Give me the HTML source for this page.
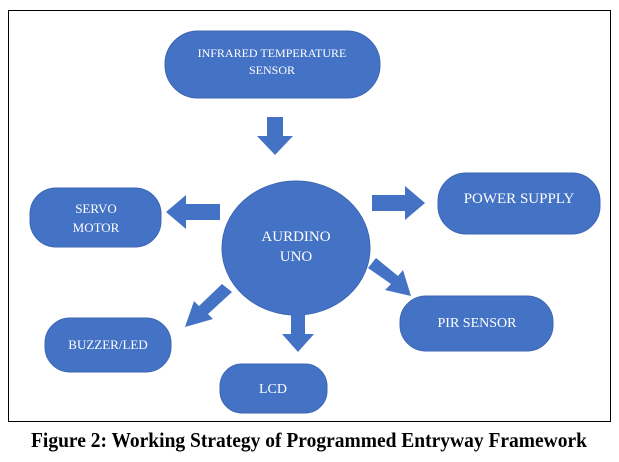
<!DOCTYPE html>
<html><head><style>
html,body{margin:0;padding:0;background:#fff;}
svg{display:block;}
</style></head><body>
<svg width="619" height="462" viewBox="0 0 619 462" xmlns="http://www.w3.org/2000/svg">
<rect x="8.5" y="10.5" width="602" height="411" fill="#fff" stroke="#000" stroke-width="1"/>
<g fill="#4472C4" stroke="#3c66b4" stroke-width="1">
<rect x="165" y="31" width="215" height="67" rx="33"/>
<rect x="30" y="188" width="131" height="59" rx="26"/>
<rect x="438" y="173" width="162" height="61" rx="28"/>
<rect x="400" y="296" width="153" height="55" rx="26"/>
<rect x="45" y="318" width="126" height="54" rx="25"/>
<rect x="220" y="364" width="107" height="49" rx="22"/>
<ellipse cx="296" cy="248" rx="74" ry="67"/>
</g>
<g fill="#4472C4">
<polygon points="267,117 283,117 283,136 293,136 275,155 257,136 267,136"/>
<polygon points="220,204 220,220 186,220 186,229 166,212 186,195 186,204"/>
<polygon points="372,195 372,211 405,211 405,220 425,203 405,186 405,195"/>
<polygon points="368,268 376,258 398,276 403,270 411,296 385,290 391,284"/>
<polygon points="222,284 232,292 208,314 213,319 185,327 194,301 199,306"/>
<polygon points="291,312 305,312 305,334 314,334 298,352 282,334 291,334"/>
</g>
<g font-family="'Liberation Serif',serif" fill="#fff" text-anchor="middle">
<text x="272" y="57" font-size="12">INFRARED TEMPERATURE</text>
<text x="272" y="74" font-size="12">SENSOR</text>
<text x="96" y="213" font-size="13">SERVO</text>
<text x="96" y="232" font-size="13">MOTOR</text>
<text x="296" y="241" font-size="15">AURDINO</text>
<text x="296" y="261" font-size="15">UNO</text>
<text x="519" y="203" font-size="15">POWER SUPPLY</text>
<text x="477" y="327" font-size="14">PIR SENSOR</text>
<text x="108" y="349" font-size="13">BUZZER/LED</text>
<text x="273" y="393" font-size="14">LCD</text>
</g>
<text x="309" y="447" text-anchor="middle" font-family="'Liberation Serif',serif" font-weight="bold" font-size="21" textLength="556" lengthAdjust="spacingAndGlyphs" fill="#000">Figure 2: Working Strategy of Programmed Entryway Framework</text>
</svg>
</body></html>
